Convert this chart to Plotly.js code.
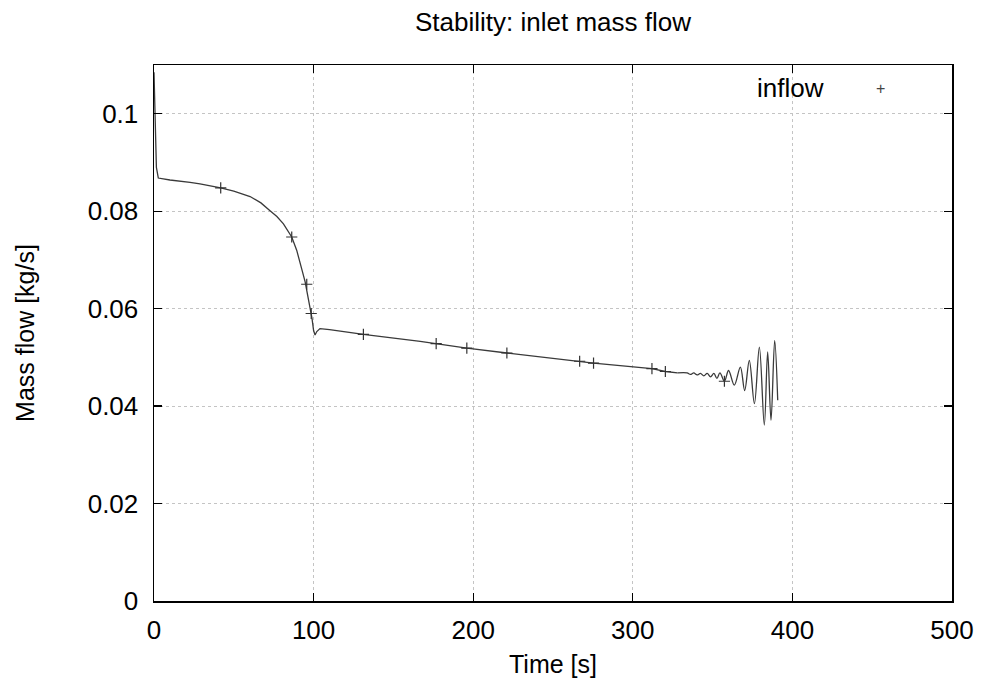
<!DOCTYPE html>
<html>
<head>
<meta charset="utf-8">
<script src="https://cdn.plot.ly/plotly-3.0.1.min.js"></script>
<style>html,body{margin:0;padding:0;background:#fff}#chart{width:982px;height:688px}</style>
</head>
<body>
<div id="chart"></div>
<script>
// Time [s] and inlet mass flow [kg/s]
const timeMain = [0, 0.3, 0.8, 1.5, 2.7, 10, 22.6, 28.8, 41.8, 50, 60.2, 67, 72.7, 77, 81.1, 84, 86.3, 89.4, 91.5, 93, 94.7, 96.2, 97.8, 99, 100.0, 100.9, 102, 104, 110, 131.2, 166.8, 176.8, 196, 221.1, 266.7, 275.4, 312, 320.4, 328];
const flowMain = [0.1085, 0.104, 0.096, 0.089, 0.0868, 0.0864, 0.0859, 0.0856, 0.0848, 0.0841, 0.0830, 0.0817, 0.0801, 0.0789, 0.0774, 0.0760, 0.0747, 0.0720, 0.0697, 0.0676, 0.0655, 0.0630, 0.0603, 0.0580, 0.0555, 0.0546, 0.0553, 0.0559, 0.0557, 0.0547, 0.0533, 0.0528, 0.0519, 0.0509, 0.0492, 0.0488, 0.0477, 0.0471, 0.0468];
const timeOsc = [328, 334, 336.1, 338.2, 340.3, 342.4, 344.5, 346.6, 348.7, 350.8, 352.7, 354.6, 357.4, 360.0, 363.6, 367.4, 370.1, 373.0, 376.2, 379.3, 382.4, 384.5, 386.6, 388.9, 390.8];
const flowOsc = [0.0468, 0.0468, 0.0465, 0.0468, 0.0464, 0.0467, 0.0462, 0.0467, 0.0460, 0.0467, 0.0457, 0.0468, 0.0451, 0.0473, 0.0443, 0.0480, 0.0432, 0.0494, 0.0405, 0.0521, 0.0361, 0.0511, 0.0371, 0.0535, 0.0412];
const markerTime = [41.8, 86.3, 95.7, 98.5, 131.2, 176.8, 196, 221.1, 266.7, 275.4, 312, 320.4, 357.4];
const markerFlow = [0.0848, 0.0747, 0.0650, 0.0590, 0.0547, 0.0528, 0.0519, 0.0509, 0.0492, 0.0488, 0.0477, 0.0471, 0.0451];
const seriesName = "inflow";
const xTicks = [0, 100, 200, 300, 400, 500];
const yTicks = [0, 0.02, 0.04, 0.06, 0.08, 0.1];
const yTickText = ["0", "0.02", "0.04", "0.06", "0.08", "0.1"];

const FONT = "Liberation Sans, Arial, sans-serif";
const lineStyle = {color: "#3a3a3a", width: 1.3};

const traces = [
  {x: timeMain, y: flowMain, type: "scatter", mode: "lines", line: lineStyle, showlegend: false, hoverinfo: "skip"},
  {x: timeOsc, y: flowOsc, type: "scatter", mode: "lines", line: Object.assign({shape: "spline", smoothing: 1}, lineStyle), showlegend: false, hoverinfo: "skip"},
  {x: markerTime, y: markerFlow, type: "scatter", mode: "markers", name: seriesName,
   marker: {symbol: "cross-thin-open", size: 8, color: "#333", line: {color: "#333", width: 1.2}}, showlegend: false}
];

const axisCommon = {
  showline: true, linecolor: "#000", linewidth: 1.5, mirror: "ticks",
  ticks: "inside", ticklen: 8, tickwidth: 1.2, tickcolor: "#000",
  showgrid: true, gridcolor: "#c4c4c4", griddash: "dot", gridwidth: 1,
  zeroline: false, tickfont: {family: FONT, size: 26, color: "#000"}
};

const layout = {
  width: 982, height: 688,
  paper_bgcolor: "#fff", plot_bgcolor: "#fff",
  margin: {l: 154, r: 30, t: 65, b: 87},
  title: {text: "Stability: inlet mass flow", font: {family: FONT, size: 26, color: "#000"},
          xref: "paper", x: 0.5, xanchor: "center", yref: "container", y: 0.968, yanchor: "middle"},
  xaxis: Object.assign({}, axisCommon, {range: [0, 500], tickvals: xTicks, ticklabelstandoff: 5,
          title: {text: "Time [s]", font: {family: FONT, size: 25, color: "#000"}, standoff: 12}}),
  yaxis: Object.assign({}, axisCommon, {range: [0, 0.11], tickvals: yTicks, ticktext: yTickText, ticklabelstandoff: 9,
          title: {text: "Mass flow [kg/s]", font: {family: FONT, size: 25, color: "#000"}, standoff: 46}}),
  showlegend: false,
  annotations: [
    {text: seriesName, xref: "paper", yref: "paper", x: 0.842, y: 0.957, xanchor: "right", yanchor: "middle",
     showarrow: false, font: {family: FONT, size: 26, color: "#000"}},
    {text: "+", xref: "paper", yref: "paper", x: 0.911, y: 0.957, xanchor: "center", yanchor: "middle",
     showarrow: false, font: {family: FONT, size: 16, color: "#444"}}
  ]
};

Plotly.newPlot("chart", traces, layout, {staticPlot: true, displayModeBar: false});
</script>
</body>
</html>
